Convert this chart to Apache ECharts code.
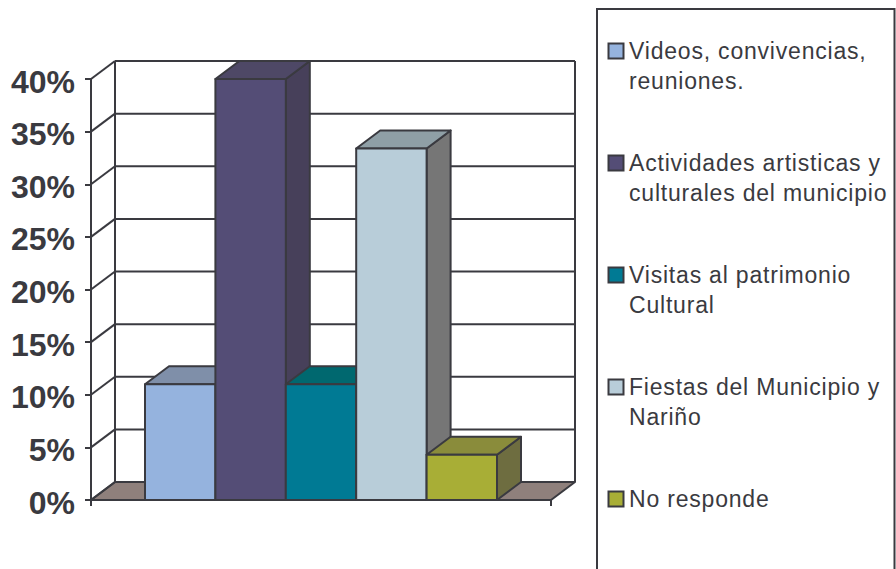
<!DOCTYPE html>
<html><head><meta charset="utf-8">
<style>html,body{margin:0;padding:0;background:#fff}#c{width:896px;height:569px}
#c text[style*="23px"]{letter-spacing:0.8px}</style>
<script src="https://cdn.jsdelivr.net/npm/echarts@6/dist/echarts.min.js"></script>
</head><body><div id="c"></div>
<script>
const categories = [''];
const seriesNames = ['Videos, convivencias,\nreuniones.','Actividades artisticas y\nculturales del municipio','Visitas al patrimonio\nCultural','Fiestas del Municipio y\nNariño','No responde'];
const seriesValues = [11, 40, 11, 33.4, 4.3];
const frontColors = ['#95b3de','#544d76','#007a94','#b8cdd9','#a8ae36'];
const topColors = ['#7f8fa9','#4e4866','#00686f','#8f9fa6','#8a8c3b'];
const sideColors = ['#6f7c92','#47405a','#005a66','#767676','#6e6d40'];
const yTicks = [0,5,10,15,20,25,30,35,40];

const STROKE = '#3a3a40', DX = 24, DY = -18, BARW = 70.4, LW = 2;
const chart = echarts.init(document.getElementById('c'), null, {renderer:'svg'});

function poly(points, fill){
  return {type:'polygon', shape:{points}, style:{fill, stroke:STROKE, lineWidth:LW, lineJoin:'round'}};
}
function renderWalls(params, api){
  const cs = params.coordSys, L = cs.x, R = cs.x + cs.width, children = [];
  const y0 = api.coord([0,0])[1];
  children.push(poly([[L,y0],[L+DX,y0+DY],[R+DX,y0+DY],[R,y0]], '#8f807c'));
  const top = api.coord([0,yTicks[yTicks.length-1]])[1];
  children.push({type:'line', shape:{x1:L+DX,y1:top+DY,x2:L+DX,y2:y0+DY}, style:{stroke:STROKE,lineWidth:LW}});
  children.push({type:'line', shape:{x1:R+DX,y1:top+DY,x2:R+DX,y2:y0+DY}, style:{stroke:STROKE,lineWidth:LW}});
  yTicks.forEach(t => {
    const y = api.coord([0,t])[1];
    children.push({type:'line', shape:{x1:L,y1:y,x2:L+DX,y2:y+DY}, style:{stroke:STROKE,lineWidth:LW}});
    children.push({type:'line', shape:{x1:L+DX,y1:y+DY,x2:R+DX,y2:y+DY}, style:{stroke:STROKE,lineWidth:LW}});
  });
  return {type:'group', children};
}
function renderBar(i){
  return function(params, api){
    const c = api.coord([0, api.value(1)]), b = api.coord([0,0]);
    const xl = c[0] + (i-2.5)*BARW, xr = xl + BARW, yt = c[1], yb = b[1];
    return {type:'group', children:[
      poly([[xr,yt],[xr+DX,yt+DY],[xr+DX,yb+DY],[xr,yb]], sideColors[i]),
      poly([[xl,yt],[xl+DX,yt+DY],[xr+DX,yt+DY],[xr,yt]], topColors[i]),
      poly([[xl,yt],[xr,yt],[xr,yb],[xl,yb]], frontColors[i])
    ]};
  };
}
const series = [{type:'custom', name:'walls', silent:true, data:[[0,0]], encode:{x:0,y:1}, renderItem:renderWalls, z:1}];
seriesNames.forEach((n,i)=>series.push({
  type:'custom', name:n, data:[[0,seriesValues[i]]], encode:{x:0,y:1},
  renderItem:renderBar(i), itemStyle:{color:frontColors[i]}, z:2
}));

chart.setOption({
  animation:false,
  backgroundColor:'#fff',
  tooltip:{show:false},
  grid:{left:91, right:345, top:79, bottom:69},
  xAxis:{type:'category', data:categories, boundaryGap:true,
    axisLine:{lineStyle:{color:STROKE,width:2}},
    axisTick:{show:true,alignWithLabel:false,length:6,lineStyle:{color:STROKE,width:2}},
    axisLabel:{show:false}},
  yAxis:{type:'value', min:0, max:40, interval:5,
    axisLine:{show:true,lineStyle:{color:STROKE,width:2}},
    axisTick:{show:true,length:6,lineStyle:{color:STROKE,width:2}},
    splitLine:{show:false},
    axisLabel:{margin:16,formatter:'{v|{value}%}',
      rich:{v:{fontFamily:'"Liberation Sans",Arial,sans-serif',fontWeight:'bold',fontSize:32,color:'#3a3a40',lineHeight:37,verticalAlign:'bottom'}}}},
  legend:{orient:'vertical', left:607.5, top:4, padding:0, itemGap:18, itemWidth:15, itemHeight:15,
    selectedMode:false,
    data:seriesNames.map((n,i)=>({name:n, icon:'rect', itemStyle:{color:frontColors[i],borderColor:STROKE,borderWidth:2}})),
    formatter:n=>'\n'+n+(n.indexOf('\n')<0?'\n ':''),
    textStyle:{fontFamily:'"Liberation Sans",Arial,sans-serif',fontSize:23,lineHeight:30,color:'#3a3a40',padding:[4,0,0,0.5]}},
  graphic:[{type:'rect',silent:true,z:-1,shape:{x:597,y:9,width:297.5,height:600},style:{fill:'#fff',stroke:STROKE,lineWidth:2}}],
  series
});
</script></body></html>
